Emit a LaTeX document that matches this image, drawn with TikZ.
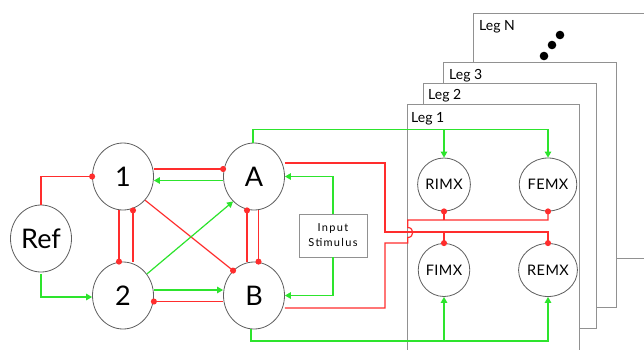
\documentclass[tikz,border=0pt]{standalone}
\usepackage{fontspec}
\setmainfont{Lato}
\usetikzlibrary{arrows.meta,shapes.geometric}

\definecolor{linkred}{RGB}{255,45,45}
\definecolor{linkgreen}{RGB}{45,228,45}
\definecolor{rimgray}{RGB}{95,95,95}
\definecolor{framegray}{RGB}{145,145,145}

\tikzset{
  cell/.style={ellipse, draw=rimgray, line width=0.8pt, fill=white,
    minimum width=61pt, minimum height=67pt, inner sep=0pt,
    font=\fontsize{27}{27}\selectfont},
  mix/.style={ellipse, draw=rimgray, line width=0.8pt, fill=white,
    minimum width=51pt, minimum height=53pt, inner sep=0pt,
    font=\fontsize{14.5}{14.5}\selectfont\addfontfeatures{LetterSpace=3}},
  legframe/.style={draw=framegray, line width=1pt, fill=white},
  leglabel/.style={anchor=base west, inner sep=0pt, font=\fontsize{14}{14}\selectfont},
  stimbox/.style={draw=framegray, line width=0.9pt, fill=white, align=center,
    minimum width=68pt, minimum height=43pt, inner sep=0pt,
    font=\fontsize{11}{15}\selectfont\addfontfeatures{LetterSpace=12}},
  blob/.style={circle, fill=black, minimum size=8.6pt, inner sep=0pt},
  inhib/.style={draw=linkred, line width=1.2pt, -{Circle[length=6pt]}, shorten >=-3pt},
  excit/.style={draw=linkgreen, line width=1.2pt, -{Triangle[length=6pt,width=6.5pt]}},
}

\begin{document}
\begin{tikzpicture}[x=1pt, y=-1pt]
\clip (0,0) rectangle (644,349);
\fill[white] (0,0) rectangle (644,349);

% stacked leg panels, back to front
\draw[legframe] (473.5,13.5) rectangle (660,258.5);
\draw[legframe] (443.5,62.5) rectangle (616.5,307.5);
\draw[legframe] (423.5,83.5) rectangle (596.5,328.5);
\draw[legframe] (407.5,104.5) rectangle (579.5,370);
\node[leglabel] (legN) at (479,30) {Leg N};
\node[leglabel] (leg3) at (449,79) {Leg 3};
\node[leglabel] (leg2) at (428,99) {Leg 2};
\node[leglabel] (leg1) at (411,122) {Leg 1};
\node[blob] (d1) at (544,56) {};
\node[blob] (d2) at (552,45) {};
\node[blob] (d3) at (560,35) {};

% central network
\node[cell] (ref) at (41,238.5) {Ref};
\node[cell] (n1) at (123,176.5) {1};
\node[cell] (n2) at (123,295.5) {2};
\node[cell] (nA) at (254,176.5) {A};
\node[cell] (nB) at (254,295.5) {B};
\node[stimbox] (inp) at (333,235.5) {Input\\Stimulus};

% leg motor units
\node[mix] (rimx) at (444,184.5) {RIMX};
\node[mix] (femx) at (548,184.5) {FEMX};
\node[mix] (fimx) at (444,270) {FIMX};
\node[mix] (remx) at (548,270) {REMX};

% reference drive
\draw[inhib] (ref.north) |- (n1.west);
\draw[excit] ([yshift=-1.5pt]ref.south) |- ([yshift=-1.5pt]n2.west);

% 1 <-> A
\draw[inhib] ([yshift=7.5pt]n1.east) -- ([yshift=7.5pt]nA.west);
\draw[excit] ([yshift=-4pt]nA.west) -- ([yshift=-4pt]n1.east);

% 1 <-> 2
\draw[inhib] ([xshift=-4pt]n1.south) -- ([xshift=-4pt]n2.north);
\draw[inhib] ([xshift=10pt]n2.north) -- ([xshift=10pt]n1.south);

% A <-> B
\draw[inhib] ([xshift=4.5pt]nA.south) -- ([xshift=4.5pt]nB.north);
\draw[inhib] ([xshift=-7pt]nB.north) -- ([xshift=-7pt]nA.south);

% diagonals
\draw[inhib] (n1.-47) -- (nB.130);
\draw[excit] (n2.42) -- (nA.230);

% 2 <-> B
\draw[excit] ([yshift=5.5pt]n2.east) -- ([yshift=5.5pt]nB.west);
\draw[inhib] ([yshift=-6pt]nB.west) -- ([yshift=-6pt]n2.east);

% stimulus input
\draw[excit] (inp.north) |- (nA.east);
\draw[excit] (inp.south) |- (nB.east);

% A drives FIMX and REMX
\draw[inhib] ([yshift=13.5pt]nA.east) -| (385,232) -| (remx.north);
\draw[inhib] (fimx.north |- 0,232) -- (fimx.north);

% B drives RIMX and FEMX, hopping over the other bus
\draw[inhib] ([yshift=-12.5pt]nB.east) -| (385,243) -- (407.7,243) -- (407.7,237.5)
  .. controls (414.4,237.5) and (414.4,227.5) .. (407.7,227.5)
  -- (407.7,220) -| (femx.south);
\draw[inhib] (rimx.south |- 0,220) -- (rimx.south);

% excitatory buses into the leg
\draw[excit] ([xshift=-1pt]nA.north) |- (femx.north |- 0,129.5) -- (femx.north);
\draw[excit] (rimx.north |- 0,129.5) -- (rimx.north);
\draw[excit] ([xshift=-3pt]nB.south) |- (remx.south |- 0,341) -- (remx.south);
\draw[excit] (fimx.south |- 0,341) -- (fimx.south);
\end{tikzpicture}
\end{document}
